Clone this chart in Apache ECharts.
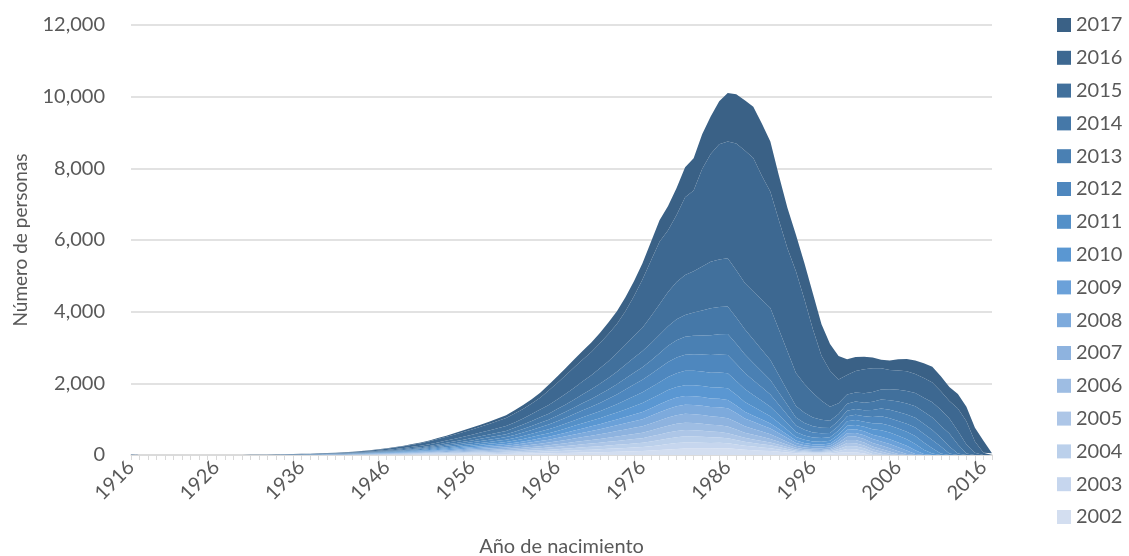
<!DOCTYPE html>
<html>
<head>
<meta charset="utf-8">
<title>Personas por año de nacimiento</title>
<script src="https://cdn.jsdelivr.net/npm/echarts@6.0.0/dist/echarts.min.js"></script>
<style>
    html, body { margin: 0; padding: 0; background: #ffffff; }
    #container-chart-area { width: 1129px; height: 556px; }
</style>
</head>
<body>
<div id="container-chart-area"></div>
<script>
// años de nacimiento 1916..2017
var anios = [];
for (var a = 1916; a <= 2017; a++) { anios.push(String(a)); }

var yTicks = [0, 2000, 4000, 6000, 8000, 10000, 12000];

// una serie por año de registro (de abajo hacia arriba en la pila)
var s2002 = [5,0,0,0,
    0,0,0,0,0,0,0,0,0,0,
    0,0,0,1,1,1,1,1,1,2,
    2,2,3,4,5,5,6,7,8,10,
    11,13,15,16,18,20,22,24,26,28,
    30,33,37,40,44,48,53,58,64,70,
    75,80,86,92,98,104,110,125,140,155,
    170,180,182,183,183,185,186,170,150,135,
    122,110,90,70,50,40,35,35,40,60,
    80,75,40,0,0,0,0,0,0,0,
    0,0,0,0,0,0,0,0];
var s2003 = [5,0,0,0,
    0,0,0,0,0,0,0,0,0,0,
    0,0,0,0,1,1,1,1,1,2,
    2,2,3,3,4,5,6,7,8,10,
    11,13,15,16,18,20,22,24,26,28,
    30,33,37,40,44,48,53,58,64,70,
    75,80,86,92,98,104,110,122,135,150,
    162,170,168,162,155,155,140,125,110,100,
    90,80,65,50,35,28,25,25,30,55,
    85,85,70,30,0,0,0,0,0,0,
    0,0,0,0,0,0,0,0];
var s2004 = [0,0,0,0,
    0,0,0,0,0,0,0,0,0,0,
    0,0,0,0,1,1,1,1,1,2,
    2,2,3,3,4,5,6,7,8,10,
    11,13,15,16,18,21,23,25,27,29,
    32,35,39,43,47,52,57,63,69,75,
    80,86,92,99,106,113,120,132,145,158,
    166,170,168,162,155,150,140,125,110,100,
    90,80,65,50,35,28,25,25,30,55,
    85,85,75,60,35,0,0,0,0,0,
    0,0,0,0,0,0,0,0];
var s2005 = [0,0,0,0,
    0,0,0,0,0,0,0,0,0,0,
    0,0,0,0,1,1,1,1,1,2,
    2,2,3,3,4,5,6,7,9,10,
    12,14,16,18,20,23,25,27,30,32,
    35,39,43,48,53,58,64,70,77,84,
    90,96,103,110,117,124,130,143,155,167,
    175,180,176,170,160,150,140,125,110,100,
    90,80,65,50,35,28,25,25,30,55,
    85,85,80,70,60,35,0,0,0,0,
    0,0,0,0,0,0,0,0];
var s2006 = [0,0,0,0,
    0,0,0,0,0,0,0,0,0,0,
    0,0,0,0,1,1,1,1,2,2,
    3,3,4,4,5,6,7,8,10,11,
    13,15,17,20,22,25,27,30,33,35,
    38,42,47,53,58,64,71,78,86,93,
    100,108,116,125,133,142,150,163,176,188,
    196,200,198,194,190,188,186,165,140,128,
    114,100,82,63,45,38,35,33,35,55,
    85,90,85,80,75,65,30,0,0,0,
    0,0,0,0,0,0,0,0];
var s2007 = [0,0,0,0,
    0,0,0,0,0,0,0,0,0,0,
    0,0,0,0,1,1,1,2,2,3,
    3,3,4,5,6,7,8,10,11,13,
    15,17,20,23,26,29,32,35,39,42,
    45,50,56,63,70,76,84,93,102,111,
    120,130,140,150,160,170,180,197,213,230,
    242,250,248,244,235,235,233,210,180,163,
    147,130,107,83,60,50,45,43,45,65,
    90,95,95,95,95,90,75,30,0,0,
    0,0,0,0,0,0,0,0];
var s2008 = [0,0,0,0,
    0,0,0,0,0,0,0,0,0,0,
    0,0,0,0,1,1,1,2,2,3,
    3,3,4,5,6,7,9,10,12,14,
    16,18,21,25,28,31,34,38,41,45,
    48,54,60,67,75,82,91,100,110,120,
    130,140,151,162,174,187,200,213,226,238,
    246,250,255,260,265,272,279,250,220,200,
    180,160,133,105,75,63,55,53,55,70,
    95,100,105,110,115,115,110,95,30,0,
    0,0,0,0,0,0,0,0];
var s2009 = [0,0,0,0,
    0,0,0,0,0,0,0,0,0,0,
    0,0,0,0,1,1,1,2,2,3,
    3,3,4,5,6,7,9,10,12,14,
    16,18,21,25,28,31,34,38,41,45,
    48,54,60,67,75,82,91,100,110,120,
    130,140,151,162,174,187,200,213,226,238,
    246,250,248,244,235,234,233,210,190,172,
    156,140,117,93,70,60,55,53,55,70,
    100,105,110,120,130,135,135,130,100,30,
    0,0,0,0,0,0,0,0];
var s2010 = [0,0,0,0,
    0,0,0,0,0,0,0,0,0,0,
    0,0,0,0,1,1,2,2,2,3,
    3,4,5,6,7,8,10,12,14,16,
    18,21,25,29,32,36,40,44,48,52,
    56,63,71,80,89,98,109,120,132,146,
    155,168,182,197,213,231,250,262,275,287,
    295,300,302,305,310,318,325,298,270,246,
    222,200,167,133,100,88,80,77,75,90,
    110,120,130,155,180,185,190,185,180,120,
    40,0,0,0,0,0,0,0];
var s2011 = [0,0,0,0,
    0,0,0,0,0,0,0,0,0,0,
    0,0,0,0,1,1,2,2,3,3,
    4,5,6,7,8,9,11,13,15,18,
    20,23,27,31,36,40,44,49,54,59,
    64,73,82,92,102,112,125,138,152,166,
    180,195,212,230,255,278,300,320,342,365,
    385,400,403,406,410,415,419,390,360,330,
    300,270,227,183,140,122,110,105,100,110,
    125,135,140,165,190,195,200,210,220,200,
    150,40,0,0,0,0,0,0];
var s2012 = [0,0,0,0,
    0,0,0,0,0,0,0,0,0,0,
    1,0,0,1,1,2,2,2,3,3,
    4,5,6,7,9,10,12,15,17,20,
    23,27,31,36,41,46,51,57,62,68,
    74,84,95,107,118,130,145,160,176,193,
    210,230,250,272,300,325,350,370,395,420,
    440,450,462,475,490,500,511,480,450,413,
    377,340,287,233,180,157,140,130,120,125,
    138,145,150,175,200,205,210,220,240,240,
    230,200,40,0,0,0,0,0];
var s2013 = [0,0,0,0,
    0,0,0,0,0,0,0,0,0,0,
    0,1,1,1,1,2,2,3,3,4,
    4,5,6,7,9,10,12,15,18,21,
    24,28,33,38,43,48,54,60,66,72,
    78,89,100,112,124,136,152,168,185,203,
    220,240,260,283,307,330,350,380,415,450,
    480,500,515,530,555,570,587,555,520,480,
    440,400,340,280,220,193,170,155,140,145,
    155,165,170,195,220,235,250,260,270,280,
    280,240,200,40,0,0,0,0];
var s2014 = [0,0,0,0,
    0,0,0,0,0,0,0,0,0,0,
    1,1,1,1,2,2,3,3,4,4,
    5,6,7,9,11,13,15,18,22,25,
    29,34,40,46,52,58,65,72,80,87,
    95,108,122,137,152,168,186,205,225,247,
    270,295,320,350,385,418,450,480,515,550,
    585,606,650,700,750,760,762,735,700,655,
    608,560,480,400,320,285,250,225,200,190,
    198,205,210,230,250,270,290,305,320,335,
    350,330,360,250,40,0,0,0];
var s2015 = [5,0,0,0,
    0,0,0,0,0,0,0,0,0,0,
    1,1,2,2,3,3,4,5,6,7,
    8,9,11,13,16,19,22,26,31,36,
    41,48,56,65,73,82,92,102,113,124,
    135,153,173,195,217,240,268,297,328,359,
    390,430,470,515,560,605,650,750,850,950,
    1040,1116,1150,1225,1300,1325,1349,1320,1290,1340,
    1400,1450,1280,1100,925,800,680,530,395,300,
    260,255,260,270,280,305,330,350,370,390,
    420,450,420,380,250,60,0,0];
var s2016 = [5,0,0,0,
    0,0,0,0,0,0,0,0,0,0,
    2,2,3,4,5,6,7,8,10,11,
    13,15,18,22,27,33,38,44,50,58,
    68,80,92,102,118,135,150,165,180,200,
    225,250,265,290,330,405,460,520,570,610,
    650,700,760,820,935,1112,1350,1560,1742,1724,
    1872,2171,2255,2720,3007,3213,3261,3532,3700,3728,
    3454,3250,3045,2877,2840,2360,1770,1256,1000,665,
    539,600,675,665,590,535,540,555,530,555,
    550,520,490,630,650,320,60,0];
var s2017 = [0,0,0,0,
    0,0,0,0,0,0,0,0,0,0,
    1,1,1,1,1,1,2,2,3,3,
    4,5,6,7,8,10,11,13,16,19,
    22,25,29,34,40,45,51,57,63,70,
    77,92,108,124,142,161,180,200,222,245,
    265,290,320,350,385,420,450,520,600,680,
    750,837,900,970,1050,1200,1349,1380,1400,1430,
    1460,1400,1250,1130,1020,1010,1000,880,750,650,
    440,390,345,300,240,270,310,340,380,410,
    440,420,390,400,410,380,340,50];

var nombres = ['2002','2003','2004','2005','2006','2007','2008','2009',
    '2010','2011','2012','2013','2014','2015','2016','2017'];
var valores = [s2002, s2003, s2004, s2005, s2006, s2007, s2008, s2009,
    s2010, s2011, s2012, s2013, s2014, s2015, s2016, s2017];
// del más claro (2002) al más oscuro (2017)
var colores = ['#D3DEF0','#C6D6EE','#BBD0EB','#ADC6E7','#9EBDE3','#8EB3DF','#7DAADC','#6BA1D9',
    '#5A97D2','#5490C8','#4E87BE','#4A80B3','#4578A8','#41709C','#3D6891','#3A6186'];

var myChart;
var fuente = 'Lato, "Open Sans", sans-serif';

function myChartInit() {
    myChart = echarts.init(document.getElementById('container-chart-area'));

    var series = [];
    for (var i = 0; i < nombres.length; i++) {
        series.push({
            name: nombres[i],
            type: 'line',
            stack: 'total',
            data: valores[i],
            symbol: 'none',
            showSymbol: false,
            lineStyle: { width: 0 },
            areaStyle: { color: colores[i], opacity: 1 },
            itemStyle: { color: colores[i] },
            emphasis: { disabled: true }
        });
    }

    var option = {
        animation: false,
        color: colores,
        textStyle: { fontFamily: fuente },
        grid: { left: 131, right: 137, top: 25, bottom: 101, containLabel: false, outerBoundsMode: 'none' },
        legend: {
            orient: 'vertical',
            left: 1052,
            top: 10,
            itemWidth: 14,
            itemHeight: 14,
            itemGap: 12.8,
            icon: 'rect',
            data: nombres.slice().reverse(),
            textStyle: { fontSize: 20, color: '#595959', fontFamily: fuente, lineHeight: 20 }
        },
        xAxis: {
            type: 'category',
            data: anios,
            boundaryGap: false,
            name: 'Año de nacimiento',
            nameLocation: 'middle',
            nameGap: 82,
            nameTextStyle: { fontSize: 20, color: '#595959', fontFamily: fuente },
            axisLine: { lineStyle: { color: '#d9d9d9', width: 1.5 } },
            axisTick: { show: true, interval: 0, length: 5, lineStyle: { color: '#d9d9d9' } },
            axisLabel: { interval: 9, rotate: 45, margin: 9, fontSize: 20, color: '#595959', fontFamily: fuente }
        },
        yAxis: {
            type: 'value',
            min: yTicks[0],
            max: yTicks[yTicks.length - 1],
            interval: 2000,
            name: 'Número de personas',
            nameLocation: 'middle',
            nameGap: 101,
            nameTextStyle: { fontSize: 19, color: '#595959', fontFamily: fuente },
            axisLine: { show: false },
            axisTick: { show: false },
            splitLine: { lineStyle: { color: '#d9d9d9', width: 1.5 } },
            axisLabel: {
                margin: 26,
                fontSize: 20,
                color: '#595959',
                fontFamily: fuente,
                formatter: function (v) { return v.toLocaleString('en-US'); }
            }
        },
        series: series
    };

    myChart.setOption(option);
}

myChartInit();
</script>
</body>
</html>
